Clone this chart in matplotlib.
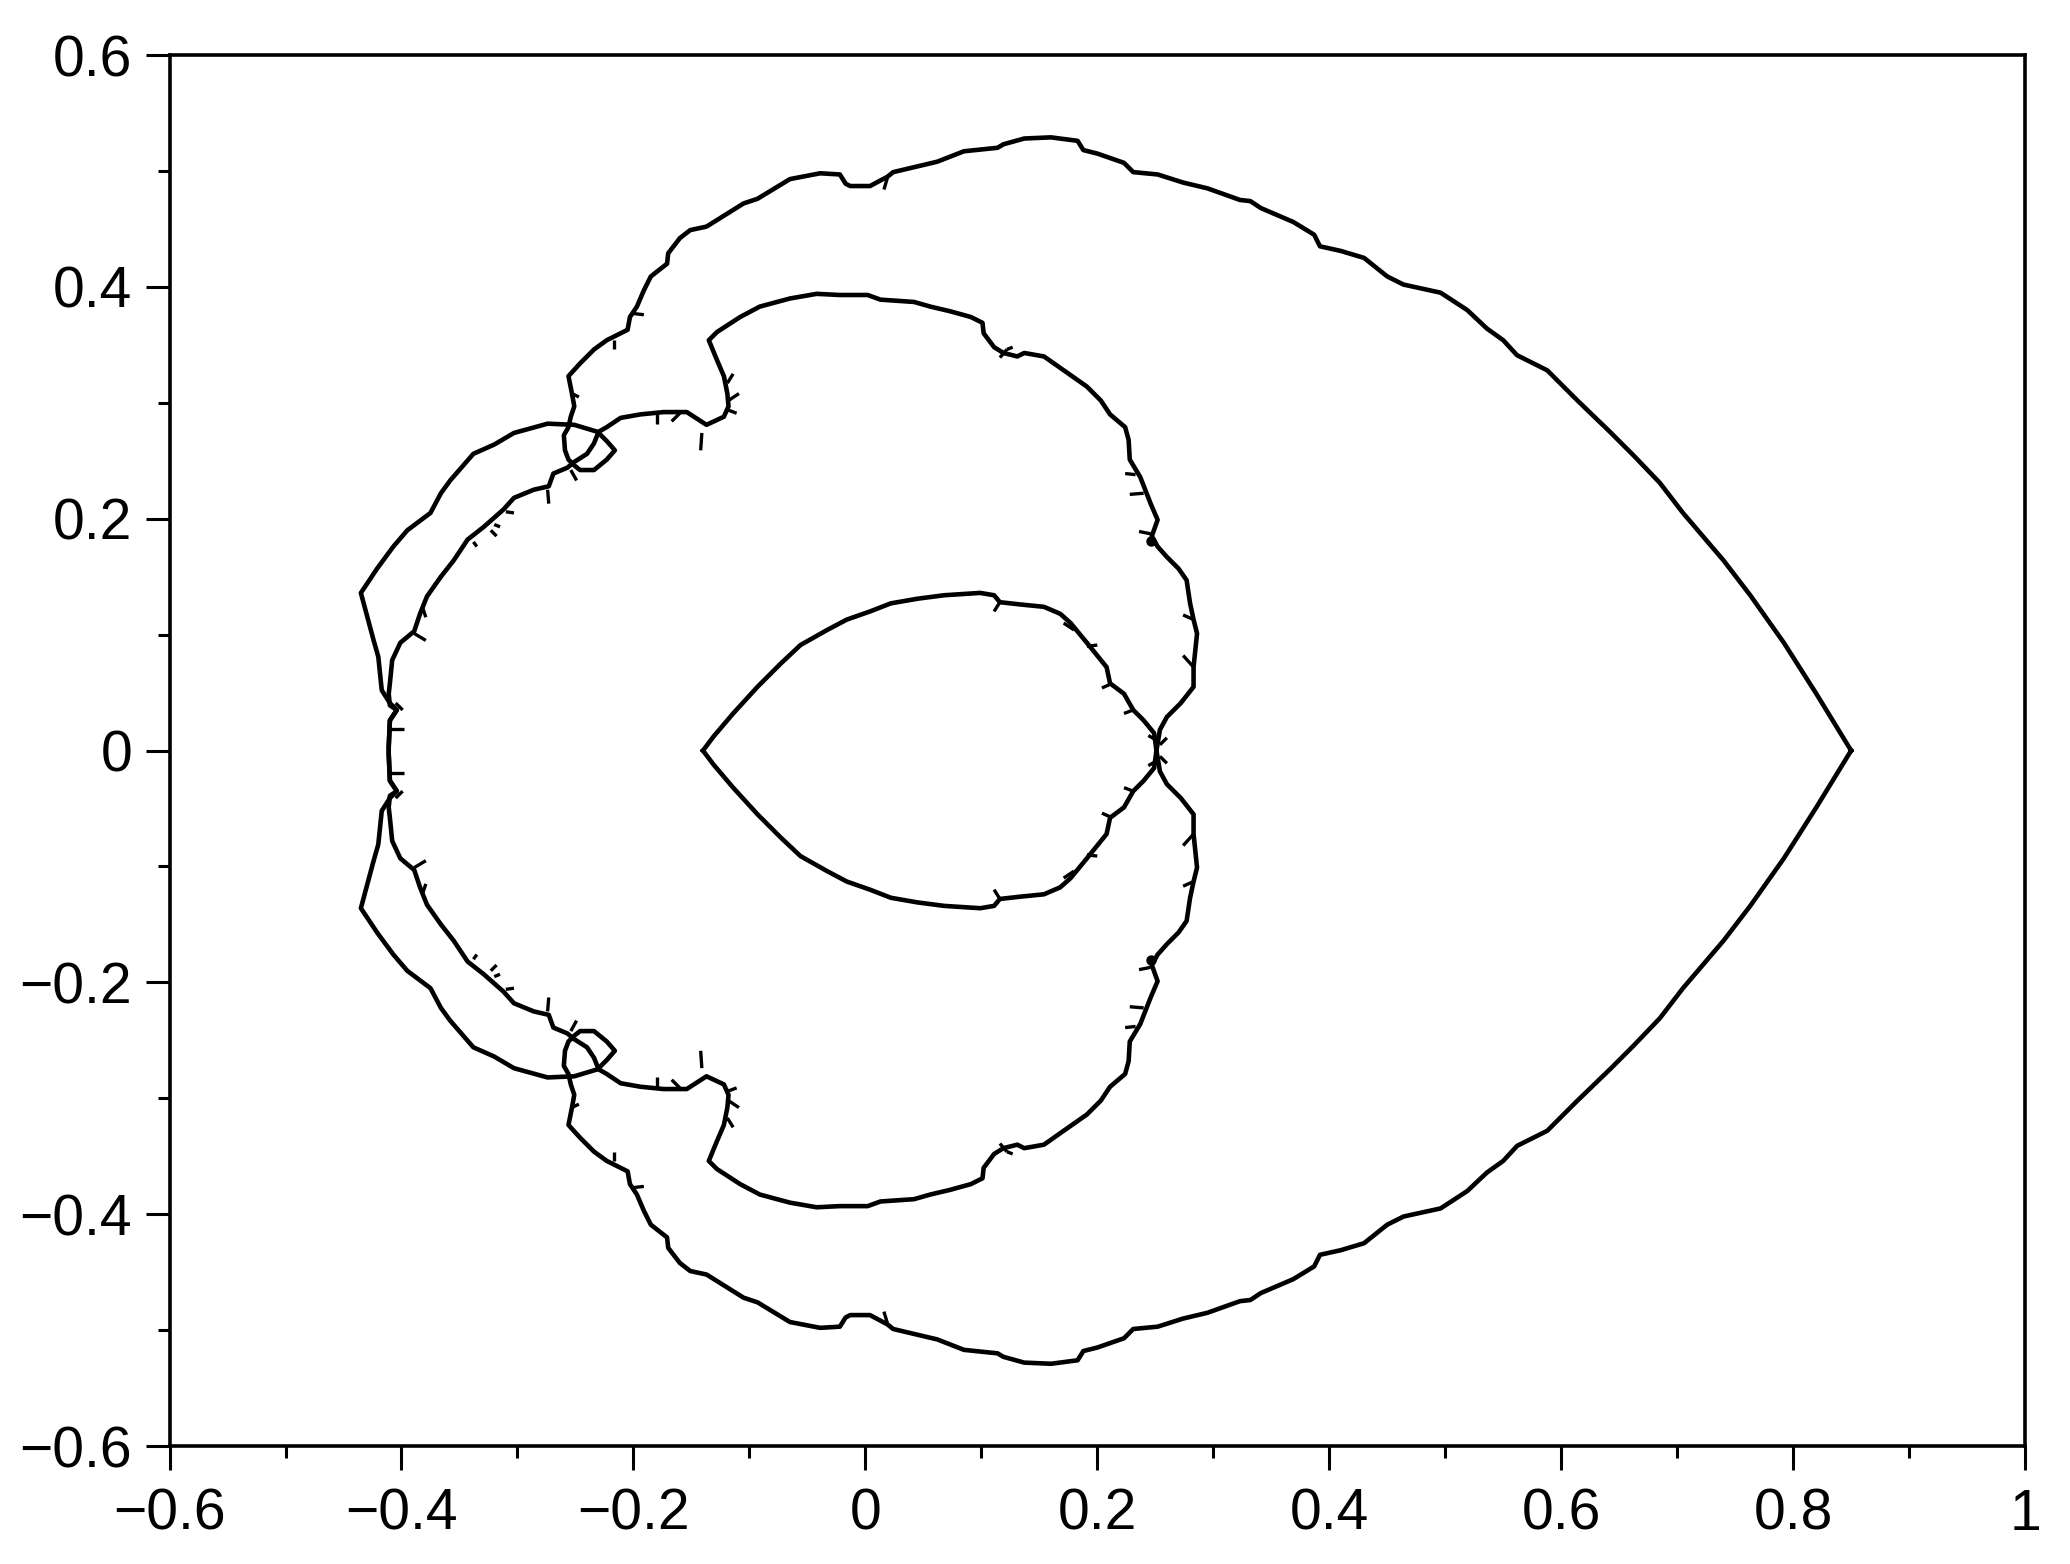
import numpy as np
import matplotlib
matplotlib.use("Agg")
import matplotlib.pyplot as plt
from matplotlib.ticker import FixedLocator, MultipleLocator

plt.rcParams['font.family'] = ['Liberation Sans', 'DejaVu Sans']

# --- upper halves of the three boundary curves (figure is symmetric about y=0) ---
outer_x = [0.850, 0.820, 0.792, 0.763, 0.740, 0.705, 0.685, 0.662, 0.642, 0.614,
           0.588, 0.562, 0.550, 0.536, 0.519, 0.496, 0.473, 0.464, 0.450, 0.430,
           0.410, 0.392, 0.387, 0.369, 0.355, 0.341, 0.332, 0.323, 0.295, 0.274,
           0.252, 0.231, 0.223, 0.200, 0.188, 0.183, 0.160, 0.137, 0.119, 0.114,
           0.085, 0.062, 0.045, 0.024, 0.019, 0.004, -0.013, -0.017, -0.022, -0.039,
           -0.065, -0.093, -0.105, -0.137, -0.151, -0.160, -0.170, -0.171, -0.185, -0.191,
           -0.197, -0.203, -0.205, -0.223, -0.234, -0.246, -0.256, -0.253, -0.251, -0.254,
           -0.256, -0.260, -0.259, -0.256, -0.251, -0.246, -0.234, -0.223, -0.216, -0.223,
           -0.231, -0.251, -0.274, -0.303, -0.320, -0.338, -0.345, -0.358, -0.366, -0.375,
           -0.395, -0.407, -0.421, -0.435, -0.424, -0.420, -0.417, -0.410, -0.404, -0.410,
           -0.411, -0.411]
outer_y = [0.000, 0.049, 0.093, 0.134, 0.164, 0.205, 0.231, 0.255, 0.275, 0.302,
           0.328, 0.341, 0.354, 0.364, 0.380, 0.395, 0.400, 0.402, 0.409, 0.425,
           0.431, 0.435, 0.445, 0.456, 0.462, 0.468, 0.474, 0.475, 0.485, 0.490,
           0.497, 0.499, 0.507, 0.515, 0.518, 0.526, 0.529, 0.528, 0.523, 0.520,
           0.517, 0.508, 0.504, 0.499, 0.495, 0.487, 0.487, 0.489, 0.497, 0.498,
           0.493, 0.476, 0.472, 0.452, 0.449, 0.442, 0.429, 0.420, 0.409, 0.397,
           0.383, 0.374, 0.363, 0.354, 0.346, 0.334, 0.323, 0.308, 0.297, 0.288,
           0.279, 0.272, 0.259, 0.251, 0.246, 0.242, 0.242, 0.251, 0.259, 0.267,
           0.275, 0.281, 0.282, 0.274, 0.264, 0.256, 0.248, 0.233, 0.222, 0.205,
           0.190, 0.176, 0.157, 0.136, 0.095, 0.081, 0.052, 0.041, 0.035, 0.026,
           0.003, 0.000]

middle_x = [0.251, 0.254, 0.260, 0.272, 0.283, 0.283, 0.286, 0.283, 0.280, 0.277,
            0.270, 0.260, 0.252, 0.247, 0.252, 0.246, 0.237, 0.228, 0.227, 0.224,
            0.211, 0.203, 0.191, 0.171, 0.154, 0.137, 0.131, 0.119, 0.111, 0.102,
            0.101, 0.091, 0.073, 0.056, 0.042, 0.013, 0.002, -0.022, -0.042, -0.065,
            -0.091, -0.108, -0.128, -0.135, -0.128, -0.122, -0.119, -0.118, -0.122, -0.137,
            -0.154, -0.174, -0.194, -0.211, -0.223, -0.230, -0.234, -0.240, -0.251, -0.257,
            -0.269, -0.273, -0.286, -0.303, -0.312, -0.329, -0.343, -0.355, -0.366, -0.378,
            -0.384, -0.389, -0.401, -0.408, -0.410, -0.411, -0.410, -0.404, -0.410, -0.411,
            -0.411]
middle_y = [0.000, 0.018, 0.029, 0.041, 0.055, 0.072, 0.101, 0.113, 0.127, 0.147,
            0.157, 0.167, 0.176, 0.185, 0.199, 0.213, 0.236, 0.251, 0.268, 0.279,
            0.290, 0.302, 0.314, 0.328, 0.340, 0.343, 0.340, 0.343, 0.348, 0.360,
            0.369, 0.374, 0.379, 0.383, 0.387, 0.389, 0.393, 0.393, 0.394, 0.390,
            0.383, 0.374, 0.361, 0.354, 0.337, 0.323, 0.308, 0.297, 0.288, 0.281,
            0.292, 0.292, 0.290, 0.287, 0.279, 0.275, 0.265, 0.256, 0.249, 0.244,
            0.239, 0.228, 0.225, 0.218, 0.208, 0.193, 0.182, 0.164, 0.150, 0.133,
            0.118, 0.103, 0.093, 0.078, 0.058, 0.049, 0.039, 0.035, 0.026, 0.003,
            0.000]

inner_x = [-0.140, -0.131, -0.114, -0.093, -0.073, -0.056, -0.033, -0.016, 0.004, 0.022,
           0.045, 0.068, 0.099, 0.111, 0.116, 0.134, 0.154, 0.168, 0.177, 0.191,
           0.208, 0.211, 0.223, 0.231, 0.240, 0.249, 0.251]
inner_y = [0.000, 0.012, 0.032, 0.055, 0.075, 0.091, 0.104, 0.113, 0.120, 0.127,
           0.131, 0.134, 0.136, 0.134, 0.128, 0.126, 0.124, 0.118, 0.110, 0.093,
           0.072, 0.058, 0.049, 0.035, 0.026, 0.015, 0.000]

# small hairs sticking out of the boundaries (base -> tip), upper half
spike_x0 = [0.019, 0.122, 0.122, 0.233, 0.240, 0.246, 0.116, 0.180, 0.191, 0.213,
            0.231, 0.251, 0.254, 0.283, 0.283, -0.200, -0.217, -0.253, -0.180, -0.160,
            -0.141, -0.119, -0.118, -0.119, -0.254, -0.274, -0.310, -0.320, -0.323, -0.338,
            -0.382, -0.389, -0.405, -0.410]
spike_y0 = [0.494, 0.346, 0.346, 0.238, 0.222, 0.187, 0.128, 0.104, 0.090, 0.058,
            0.035, 0.009, 0.005, 0.113, 0.072, 0.377, 0.354, 0.308, 0.290, 0.291,
            0.274, 0.317, 0.302, 0.294, 0.242, 0.225, 0.206, 0.195, 0.190, 0.180,
            0.124, 0.101, 0.041, 0.019]
spike_x1 = [0.016, 0.116, 0.127, 0.224, 0.228, 0.236, 0.111, 0.171, 0.200, 0.204,
            0.223, 0.244, 0.260, 0.274, 0.274, -0.191, -0.217, -0.247, -0.180, -0.167,
            -0.142, -0.114, -0.109, -0.111, -0.249, -0.273, -0.303, -0.315, -0.318, -0.335,
            -0.379, -0.379, -0.399, -0.398]
spike_y1 = [0.484, 0.339, 0.348, 0.239, 0.221, 0.189, 0.120, 0.110, 0.091, 0.054,
            0.032, 0.013, 0.011, 0.117, 0.082, 0.376, 0.346, 0.305, 0.282, 0.284,
            0.259, 0.325, 0.308, 0.291, 0.233, 0.213, 0.205, 0.193, 0.185, 0.176,
            0.115, 0.095, 0.035, 0.019]
blob_x = [0.246]
blob_y = [0.181]

x_ticks = [-0.6, -0.4, -0.2, 0, 0.2, 0.4, 0.6, 0.8, 1]
x_tick_labels = ['\u22120.6', '\u22120.4', '\u22120.2', '0', '0.2', '0.4', '0.6', '0.8', '1']
y_ticks = [-0.6, -0.4, -0.2, 0, 0.2, 0.4, 0.6]
y_tick_labels = ['\u22120.6', '\u22120.4', '\u22120.2', '0', '0.2', '0.4', '0.6']


def closed(xs, ys):
    # upper half followed by its mirror image below the axis
    xs = np.asarray(xs)
    ys = np.asarray(ys)
    return np.concatenate([xs, xs[::-1]]), np.concatenate([ys, -ys[::-1]])


fig = plt.figure(figsize=(20.7, 15.64), dpi=100)
ax = fig.add_axes([0.0819, 0.0754, 0.8964, 0.8894])

for xs, ys in [(outer_x, outer_y), (middle_x, middle_y), (inner_x, inner_y)]:
    cx, cy = closed(xs, ys)
    ax.plot(cx, cy, color='black', linewidth=3.3, solid_joinstyle='round')

for sign in (1, -1):
    for x0, y0, x1, y1 in zip(spike_x0, spike_y0, spike_x1, spike_y1):
        ax.plot([x0, x1], [sign * y0, sign * y1], color='black', linewidth=2.4,
                solid_capstyle='butt')
    ax.plot(blob_x, [sign * b for b in blob_y], 'o', color='black', markersize=6.5)

ax.set_xlim(-0.6, 1.0)
ax.set_ylim(-0.6, 0.6)

ax.xaxis.set_major_locator(FixedLocator(x_ticks))
ax.set_xticklabels(x_tick_labels)
ax.yaxis.set_major_locator(FixedLocator(y_ticks))
ax.set_yticklabels(y_tick_labels)
ax.xaxis.set_minor_locator(MultipleLocator(0.1))
ax.yaxis.set_minor_locator(MultipleLocator(0.1))

ax.tick_params(which='both', direction='out', top=False, right=False, width=2.2, labelsize=41)
ax.tick_params(which='major', length=17)
ax.tick_params(which='minor', length=8.5)
ax.tick_params(axis='x', which='major', pad=13)
ax.tick_params(axis='y', which='major', pad=10)
for s in ax.spines.values():
    s.set_linewidth(2.6)

fig.savefig('out.png', dpi=100)
